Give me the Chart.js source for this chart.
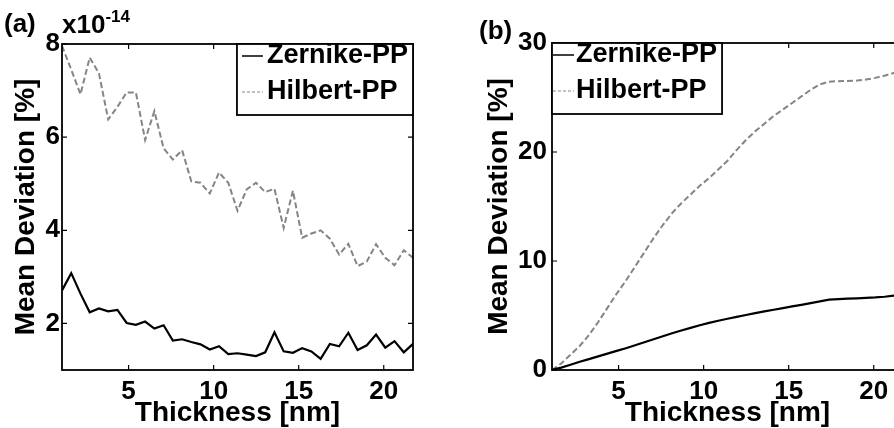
<!DOCTYPE html>
<html lang="en">
<head>
<meta charset="UTF-8">
<title>Mean Deviation vs Thickness</title>
<script src="https://cdn.jsdelivr.net/npm/chart.js"></script>
<style>
  html, body { margin: 0; padding: 0; background: #fff; overflow: hidden; width: 894px; height: 428px; }
  .panel { position: absolute; top: 0; height: 428px; }
  .tag { position: absolute; font: bold 26px "Liberation Sans", Arial, sans-serif; color: #000; line-height: 1; white-space: nowrap; }
  .tag .sup { font-size: 17px; position: relative; top: -11px; }
</style>
</head>
<body>

<div class="panel" style="left:0; width:440px;"><canvas id="chartA" width="440" height="428"></canvas></div>
<div class="panel" style="left:447px; width:460px;"><canvas id="chartB" width="460" height="428"></canvas></div>

<div class="tag" style="left:4px; top:10px;">(a)</div>
<div class="tag" style="left:62px; top:11px;">x10<span class="sup">-14</span></div>
<div class="tag" style="left:479px; top:17px;">(b)</div>

<script>
  // thickness in nm (multiples of the Si lattice constant)
  const thickness = [1.086, 1.629, 2.172, 2.715, 3.258, 3.801, 4.344, 4.887, 5.430, 5.973,
    6.516, 7.059, 7.602, 8.145, 8.688, 9.231, 9.774, 10.317, 10.860, 11.403,
    11.946, 12.489, 13.032, 13.575, 14.118, 14.661, 15.204, 15.747, 16.290, 16.833,
    17.376, 17.919, 18.462, 19.005, 19.548, 20.091, 20.634, 21.177, 21.720];

  // panel (a), values in units of 1e-14 %
  const zernikeA = [2.71, 3.08, 2.64, 2.24, 2.32, 2.26, 2.29, 2.01, 1.97, 2.04,
    1.89, 1.96, 1.63, 1.66, 1.60, 1.55, 1.44, 1.51, 1.34, 1.36,
    1.33, 1.30, 1.38, 1.81, 1.40, 1.37, 1.47, 1.40, 1.24, 1.56,
    1.51, 1.80, 1.43, 1.53, 1.76, 1.48, 1.62, 1.38, 1.56];
  const hilbertA = [7.96, 7.45, 6.92, 7.71, 7.37, 6.38, 6.65, 6.96, 6.96, 5.94,
    6.56, 5.76, 5.52, 5.72, 5.05, 5.02, 4.79, 5.24, 5.02, 4.42,
    4.88, 5.02, 4.82, 4.89, 4.05, 4.85, 3.84, 3.93, 4.00, 3.82,
    3.48, 3.71, 3.23, 3.33, 3.70, 3.41, 3.25, 3.57, 3.41];

  // panel (b), values in %
  const zernikeB = [0.00, 0.22, 0.48, 0.75, 1.00, 1.25, 1.50, 1.75, 2.00, 2.27,
    2.55, 2.82, 3.10, 3.37, 3.62, 3.86, 4.10, 4.32, 4.52, 4.70,
    4.88, 5.05, 5.22, 5.38, 5.53, 5.68, 5.83, 5.98, 6.14, 6.30,
    6.45, 6.50, 6.54, 6.58, 6.62, 6.66, 6.72, 6.82, 6.92];
  const hilbertB = [0.0, 0.6, 1.4, 2.2, 3.2, 4.4, 5.7, 7.0, 8.2, 9.5,
    10.8, 12.1, 13.3, 14.4, 15.3, 16.1, 16.9, 17.6, 18.4, 19.2,
    20.2, 21.1, 21.9, 22.6, 23.3, 23.9, 24.5, 25.1, 25.7, 26.2,
    26.45, 26.5, 26.52, 26.55, 26.65, 26.8, 27.0, 27.25, 27.45];

  const xTicks = [5, 10, 15, 20];
  const yTicksA = [2, 4, 6, 8];
  const yTicksB = [0, 10, 20, 30];
  const seriesNames = ['Zernike-PP', 'Hilbert-PP'];

  const FONT = '"Liberation Sans", Arial, sans-serif';

  // box round the plot and short inward ticks on all four sides
  const frame = {
    id: 'frame',
    afterDatasetsDraw(chart) {
      const { ctx, chartArea: a, scales: { x, y } } = chart;
      const len = 5;
      ctx.save();
      ctx.strokeStyle = '#000';
      ctx.lineWidth = 1.8;
      ctx.strokeRect(a.left, a.top, a.right - a.left, a.bottom - a.top);
      ctx.lineWidth = 1.2;
      ctx.beginPath();
      x.ticks.forEach(t => {
        const px = x.getPixelForValue(t.value);
        ctx.moveTo(px, a.bottom); ctx.lineTo(px, a.bottom - len);
        ctx.moveTo(px, a.top); ctx.lineTo(px, a.top + len);
      });
      y.ticks.forEach(t => {
        const py = y.getPixelForValue(t.value);
        ctx.moveTo(a.left, py); ctx.lineTo(a.left + len, py);
        ctx.moveTo(a.right, py); ctx.lineTo(a.right - len, py);
      });
      ctx.stroke();
      ctx.restore();
    }
  };

  // matlab style legend box inside the plot
  const boxLegend = {
    id: 'boxLegend',
    afterDraw(chart, args, opts) {
      const { ctx, chartArea: a } = chart;
      const items = chart.data.datasets;
      ctx.save();
      ctx.font = 'bold 27px ' + FONT;
      const textW = Math.max(...items.map(d => ctx.measureText(d.label).width));
      const w = opts.inset + 21 + opts.gap + textW + 5;
      const h = 71;
      const left = opts.align === 'right' ? a.right - w : a.left;
      const top = a.top;
      ctx.fillStyle = '#fff';
      ctx.fillRect(left, top, w, h);
      ctx.strokeStyle = '#000';
      ctx.lineWidth = 1.8;
      ctx.strokeRect(left, top, w, h);
      items.forEach((d, i) => {
        const cy = top + 12 + i * 36;
        ctx.strokeStyle = d.borderColor;
        ctx.lineWidth = i === 0 ? 1.5 : 1.2;
        ctx.setLineDash(d.borderDash ? [3, 2] : []);
        ctx.beginPath();
        ctx.moveTo(left + opts.inset, cy);
        ctx.lineTo(left + opts.inset + 21, cy);
        ctx.stroke();
        ctx.setLineDash([]);
        ctx.fillStyle = '#000';
        ctx.textBaseline = 'middle';
        ctx.fillText(d.label, left + opts.inset + 21 + opts.gap, cy);
      });
      ctx.restore();
    }
  };

  function makeChart(id, zern, hilb, yMin, yMax, yTicks, layout, legendOpts) {
    const toPoints = vals => thickness.map((t, i) => ({ x: t, y: vals[i] }));
    return new Chart(document.getElementById(id), {
      type: 'line',
      data: {
        datasets: [
          { label: seriesNames[0], data: toPoints(zern), borderColor: '#000', borderWidth: 2.2, pointRadius: 0, tension: 0 },
          { label: seriesNames[1], data: toPoints(hilb), borderColor: '#858585', borderWidth: 2, borderDash: [6, 3], pointRadius: 0, tension: 0 }
        ]
      },
      plugins: [frame, boxLegend],
      options: {
        responsive: false,
        animation: false,
        layout: { padding: { left: 0, top: layout.top, right: layout.right, bottom: 0 } },
        plugins: {
          legend: { display: false },
          tooltip: { enabled: false },
          boxLegend: legendOpts
        },
        scales: {
          x: {
            type: 'linear',
            min: thickness[0],
            max: thickness[thickness.length - 1],
            grid: { display: false, drawTicks: false },
            border: { display: false },
            afterBuildTicks: s => { s.ticks = xTicks.map(v => ({ value: v })); },
            afterFit: s => { s.height = 58; },
            ticks: { color: '#000', padding: 6, font: { family: FONT, size: 26, weight: 'bold' }, maxRotation: 0, callback: v => String(v) },
            title: { display: true, text: 'Thickness [nm]', color: '#000', padding: { top: 0, bottom: 0 }, font: { family: FONT, size: 28, weight: 'bold', lineHeight: 1.05 } }
          },
          y: {
            type: 'linear',
            min: yMin,
            max: yMax,
            grid: { display: false, drawTicks: false },
            border: { display: false },
            afterBuildTicks: s => { s.ticks = yTicks.map(v => ({ value: v })); },
            afterFit: s => { s.width = layout.yWidth; },
            ticks: { color: '#000', padding: layout.tickPad, font: { family: FONT, size: 26, weight: 'bold' }, callback: v => String(v) },
            title: { display: true, text: 'Mean Deviation [%]', color: '#000', padding: { top: layout.titlePad, bottom: 0 }, font: { family: FONT, size: 28, weight: 'bold', lineHeight: 1.2 } }
          }
        }
      }
    });
  }

  makeChart('chartA', zernikeA, hilbertA, 1, 8, yTicksA,
    { top: 44, right: 27, yWidth: 62, tickPad: 2, titlePad: 9 },
    { align: 'right', inset: 5, gap: 4 });

  makeChart('chartB', zernikeB, hilbertB, 0, 30, yTicksB,
    { top: 43, right: 4, yWidth: 105, tickPad: 5, titlePad: 35 },
    { align: 'left', inset: 1, gap: 2 });
</script>

</body>
</html>
